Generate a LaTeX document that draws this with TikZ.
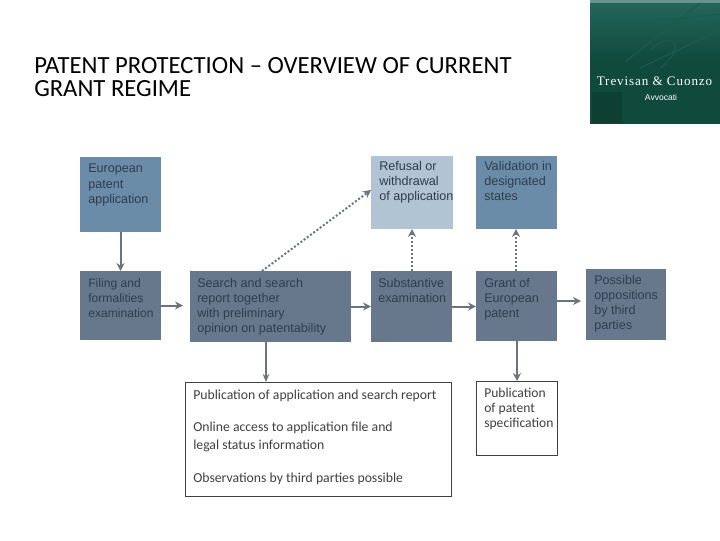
\documentclass[tikz,border=0pt]{standalone}
\usepackage{fontspec}
\setmainfont{Liberation Sans}
\newfontfamily\carl{Carlito}
\newfontfamily\logoserif[LetterSpace=7]{Liberation Serif}
\usetikzlibrary{arrows.meta,calc}
\definecolor{midblue}{HTML}{6A8CA8}
\definecolor{paleblue}{HTML}{B0C4D3}
\definecolor{slate}{HTML}{67788D}
\definecolor{inktext}{HTML}{2F3D4E}
\definecolor{linkgray}{HTML}{6C737E}
\definecolor{logodark}{HTML}{0F4A3C}
\definecolor{logoteal}{HTML}{26665C}
\tikzset{
  x=0.75pt, y=-0.75pt,
  wh/.style 2 args={minimum width=#1*0.75pt, minimum height=#2*0.75pt},
  basebox/.style={anchor=north west, inner sep=0pt, outer sep=0pt},
  midbox/.style={basebox, fill=midblue},
  palebox/.style={basebox, fill=paleblue},
  slatebox/.style={basebox, fill=slate},
  whitebox/.style={basebox, draw=black!75, line width=0.6pt, fill=white},
  boxtext/.style={anchor=north west, inner sep=0pt, align=left, text=inktext,
    font=\fontsize{9.45}{11.3}\selectfont},
  pubtext/.style={anchor=north west, inner sep=0pt, align=left, text=black!75,
    font=\carl\fontsize{10.3}{13.2}\selectfont},
  spectext/.style={pubtext, font=\carl\fontsize{10.2}{11.2}\selectfont},
  solidlink/.style={draw=linkgray, line width=1.5pt, -{Stealth[length=6pt,width=6pt]}},
  thinlink/.style={draw=linkgray, line width=1pt, -{Stealth[length=6pt,width=5pt]}},
  dotlink/.style={draw=linkgray, line width=1.5pt, dash pattern=on 1.5pt off 1.5pt, -{Stealth[length=6pt,width=6pt]}},
}
\begin{document}
\begin{tikzpicture}
\useasboundingbox (0,0) rectangle (720,540);

% title
\node[anchor=north west, inner sep=0pt, align=left, text=black,
  font=\carl\fontsize{18.5}{17.3}\selectfont] (title) at (34,57)
  {PATENT PROTECTION – OVERVIEW OF CURRENT\\GRANT REGIME};

% logo
\node[basebox, wh={130}{123}, top color=logoteal, bottom color=logodark, middle color=logodark] (logo) at (590,0) {};
\fill[logoteal!70!white] (590,0) rectangle (720,3);
\draw[logoteal!60!logodark, line width=0.8pt] (598,28) -- (720,14) (625,62) -- (700,3) (640,68) -- (720,30) (650,50) .. controls (670,30) and (690,45) .. (660,68);
\fill[logodark!85!black] (592,92) rectangle (622,123);
\node[anchor=center, inner sep=0pt, text=white, font=\logoserif\fontsize{9.8}{11}\selectfont] (firm) at (654.5,81) {Trevisan \& Cuonzo};
\node[anchor=center, inner sep=0pt, text=white, font=\fontsize{6.4}{7}\selectfont] (avv) at (661,97) {Avvocati};

% boxes
\node[midbox, wh={81}{75}] (epa) at (80,157) {};
\node[slatebox, wh={81}{69}] (filing) at (80,271) {};
\node[slatebox, wh={161}{71}] (search) at (190,271) {};
\node[palebox, wh={82}{73}] (refusal) at (371,156) {};
\node[midbox, wh={81}{73}] (valid) at (476,156) {};
\node[slatebox, wh={81}{71}] (subst) at (371,271) {};
\node[slatebox, wh={81}{70}] (grant) at (476,271) {};
\node[slatebox, wh={80}{71}] (oppo) at (586,269) {};
\node[whitebox, wh={266}{114}] (pub) at (185,382) {};
\node[whitebox, wh={81}{74}] (spec) at (476,381) {};

% texts
\node[boxtext] (tepa) at (88,164) {European\\patent\\application};
\node[boxtext, font=\fontsize{9.1}{11.3}\selectfont] (tfiling) at (88,278) {Filing and\\formalities\\examination};
\node[boxtext] (tsearch) at (197,278) {Search and search\\report together\\with preliminary\\opinion on patentability};
\node[boxtext] (trefusal) at (379,161) {Refusal or\\withdrawal\\of application};
\node[boxtext] (tvalid) at (484,161) {Validation in\\designated\\states};
\node[boxtext] (tsubst) at (378,278) {Substantive\\examination};
\node[boxtext] (tgrant) at (484,278) {Grant of\\European\\patent};
\node[boxtext] (toppo) at (594,275) {Possible\\oppositions\\by third\\parties};
\node[pubtext] (tpub) at (193,390) {Publication of application and search report\\[10.8pt]Online access to application file and\\legal status information\\[11.5pt]Observations by third parties possible};
\node[spectext] (tspec) at (484,388) {Publication\\of patent\\specification};

% connectors
\draw[solidlink] (epa.south) -- (filing.north);
\draw[solidlink, shorten >=7*0.75pt] (filing.east) -- (filing.east -| search.west);
\draw[solidlink] (search.east |- subst.west) -- (subst.west);
\draw[solidlink] (subst.east) -- (subst.east -| grant.west);
\draw[solidlink, shorten >=5*0.75pt] (grant.east |- 0,301) -- (oppo.west |- 0,301);
\draw[thinlink] (search.south -| 266,0) -- (pub.north -| 266,0);
\draw[solidlink] (grant.south -| 517,0) -- (spec.north -| 517,0);
\draw[dotlink] (subst.north -| 412,0) -- (refusal.south -| 412,0);
\draw[dotlink] (grant.north -| 516,0) -- (valid.south -| 516,0);
\draw[dotlink] (search.north -| 262,0) -- (refusal.west |- 0,190);
\end{tikzpicture}
\end{document}
